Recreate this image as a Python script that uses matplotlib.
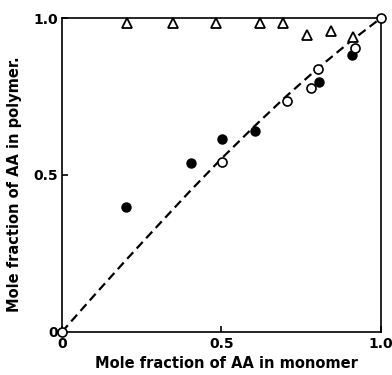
import numpy as np
import matplotlib.pyplot as plt

# Données
tri_x = [0.203, 0.349, 0.483, 0.621, 0.692, 0.768, 0.842, 0.911]
tri_y = [0.984, 0.984, 0.984, 0.984, 0.984, 0.946, 0.960, 0.940]

filled_x = [0.200, 0.404, 0.502, 0.605, 0.806, 0.908]
filled_y = [0.399, 0.537, 0.614, 0.641, 0.797, 0.882]

open_x = [0.0, 0.502, 0.704, 0.781, 0.803, 0.918, 1.0]
open_y = [0.0, 0.540, 0.736, 0.778, 0.837, 0.906, 1.0]

curve_x = [0.0, 0.1, 0.2, 0.3, 0.4, 0.5, 0.6, 0.7, 0.8, 0.9, 1.0]
curve_y = [0.0, 0.115, 0.228, 0.338, 0.447, 0.552, 0.652, 0.748, 0.838, 0.922, 1.0]

ticks = [0, 0.5, 1.0]
tick_labels = ['0', '0.5', '1.0']

fig = plt.figure(figsize=(3.92, 3.75), dpi=100)
ax = fig.add_axes([0.158, 0.115, 0.814, 0.837])

ax.plot(curve_x, curve_y, color='black', lw=1.6, dashes=(4, 2.3), zorder=2)
ax.plot(tri_x, tri_y, '^', ms=6.5, mfc='white', mec='black', mew=1.3,
        clip_on=False, zorder=3)
ax.plot(filled_x, filled_y, 'o', ms=6.5, mfc='black', mec='black',
        clip_on=False, zorder=3)
ax.plot(open_x, open_y, 'o', ms=6.5, mfc='white', mec='black', mew=1.2,
        clip_on=False, zorder=4)

ax.set_xlim(0, 1)
ax.set_ylim(0, 1)
ax.set_xticks(ticks)
ax.set_yticks(ticks)
ax.set_xticklabels(tick_labels, fontsize=10, fontweight='bold')
ax.set_yticklabels(tick_labels, fontsize=10, fontweight='bold')
ax.tick_params(direction='in', length=4, width=1.2, pad=3)
ax.tick_params(axis='x', pad=4)
for sp in ax.spines.values():
    sp.set_linewidth(1.2)

ax.set_xlabel('Mole fraction of AA in monomer', fontsize=10.5, fontweight='bold')
ax.set_ylabel('Mole fraction of AA in polymer.', fontsize=10.5, fontweight='bold')
ax.xaxis.set_label_coords(0.517, -0.076)
ax.yaxis.set_label_coords(-0.125, 0.471)

fig.savefig('out.png', dpi=100)
